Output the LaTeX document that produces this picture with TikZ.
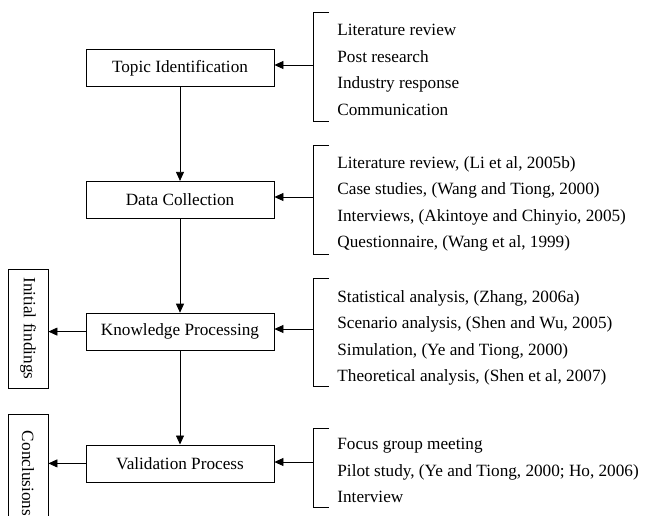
\documentclass[tikz,border=0pt]{standalone}
\usepackage{fontspec}
\setmainfont{Liberation Serif}
\usetikzlibrary{positioning,arrows.meta}

\tikzset{
  stage/.style={draw, minimum width=188pt, minimum height=37pt, inner sep=0pt},
  outcome/.style={draw, rotate=-90, minimum width=119pt, minimum height=40pt, inner sep=0pt},
  sources/.style={align=left, anchor=west, inner sep=0pt},
}

\begin{document}
\begin{tikzpicture}[x=1pt, y=-1pt, line width=0.8pt,
    font=\fontsize{17.2}{26.5}\selectfont,
    >={Triangle[length=9pt,width=8pt]}]
  \clip (0,0) rectangle (647,515);

  % main stages
  \node[stage] (topic) at (180,68) {Topic Identification};
  \node[stage, below = 94pt of topic] (data) {Data Collection};
  \node[stage, below = 94pt of data] (knowledge) {Knowledge Processing};
  \node[stage, below = 94pt of knowledge] (validation) {Validation Process};
  \draw[->] (topic) -- (data);
  \draw[->] (data) -- (knowledge);
  \draw[->] (knowledge) -- (validation);

  % outcomes
  \node[outcome] (initial) at (28,328.5) {Initial findings};
  \node[outcome] (conclusions) at (28,473.5) {Conclusions};
  \draw[->] (knowledge.west) -- (knowledge.west -| initial.north);
  \draw[->] (validation.west) -- (validation.west -| conclusions.north);

  % sources
  \node[sources] (topicSrc) at (337,70)
    {Literature review\\Post research\\Industry response\\Communication};
  \node[sources] (dataSrc) at (337,203.8)
    {Literature review, (Li et al, 2005b)\\Case studies, (Wang and Tiong, 2000)\\
     Interviews, (Akintoye and Chinyio, 2005)\\Questionnaire, (Wang et al, 1999)};
  \node[sources] (knowledgeSrc) at (337,338)
    {Statistical analysis, (Zhang, 2006a)\\Scenario analysis, (Shen and Wu, 2005)\\
     Simulation, (Ye and Tiong, 2000)\\Theoretical analysis, (Shen et al, 2007)};
  \node[sources] (validationSrc) at (337,470.8)
    {Focus group meeting\\Pilot study, (Ye and Tiong, 2000; Ho, 2006)\\Interview};

  % brackets
  \draw (329,12) -| (313,121) -- (329,121);
  \draw (329,145) -| (313,254) -- (329,254);
  \draw (329,278) -| (313,386) -- (329,386);
  \draw (329,428) -| (313,507) -- (329,507);
  \coordinate (topicIn) at (313,65);
  \coordinate (dataIn) at (313,197);
  \coordinate (knowledgeIn) at (313,329);
  \coordinate (validationIn) at (313,462);
  \draw[->] (topicIn) -- (topicIn -| topic.east);
  \draw[->] (dataIn) -- (dataIn -| data.east);
  \draw[->] (knowledgeIn) -- (knowledgeIn -| knowledge.east);
  \draw[->] (validationIn) -- (validationIn -| validation.east);
\end{tikzpicture}
\end{document}
